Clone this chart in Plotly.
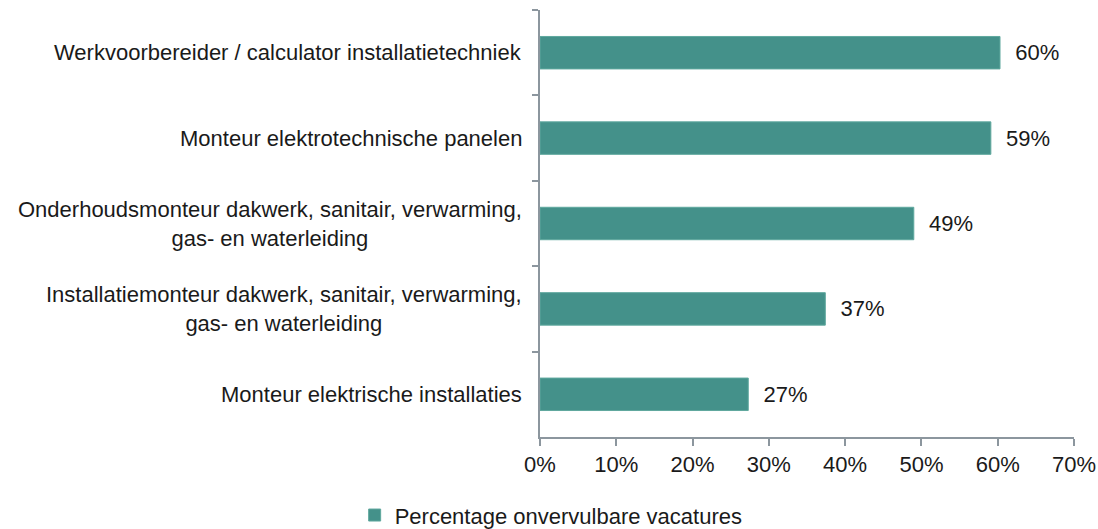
import plotly.graph_objects as go

categories = [
    "Werkvoorbereider / calculator installatietechniek",
    "Monteur elektrotechnische panelen",
    "Onderhoudsmonteur dakwerk, sanitair, verwarming,<br>gas- en waterleiding",
    "Installatiemonteur dakwerk, sanitair, verwarming,<br>gas- en waterleiding",
    "Monteur elektrische installaties",
]
values = [60.3, 59.1, 49.0, 37.4, 27.3]
series_name = "Percentage onvervulbare vacatures"
x_ticks = [0, 10, 20, 30, 40, 50, 60, 70]
x_ticklabels = [f"{t}%" for t in x_ticks]

bar_color = "#44918a"
axis_color = "#8c969e"
text_color = "#1a1a1a"
font_family = "Liberation Sans, Arial, sans-serif"
fs = 22

fig = go.Figure()
fig.add_trace(go.Bar(
    x=values,
    y=categories,
    orientation="h",
    name=series_name,
    marker=dict(color=bar_color, line=dict(color="#5fa89e", width=1)),
    text=["\u00a0\u00a0" + f"{v:.0f}%" for v in values],
    textposition="outside",
    textfont=dict(size=fs, color=text_color, family=font_family),
    cliponaxis=False,
    showlegend=True,
))

for c in categories:
    fig.add_annotation(
        x=0, xref="paper", y=c, yref="y",
        text=c, showarrow=False, xanchor="right", yanchor="middle",
        align="center", xshift=-16,
        font=dict(size=fs, color=text_color, family=font_family),
    )

fig.update_layout(
    width=1098, height=529,
    margin=dict(l=540, r=24, t=10, b=92, autoexpand=False),
    paper_bgcolor="white", plot_bgcolor="white",
    bargap=0.62,
    font=dict(family=font_family, size=fs, color=text_color),
    showlegend=True,
    legend=dict(
        orientation="h",
        xref="container", yref="container",
        x=0.323, y=0.026, xanchor="left", yanchor="middle",
        font=dict(size=fs, color=text_color, family=font_family),
        itemwidth=30,
    ),
    xaxis=dict(
        range=[0, 70],
        tickvals=x_ticks, ticktext=x_ticklabels,
        showgrid=False, zeroline=False, automargin=False,
        showline=True, linecolor=axis_color, linewidth=2,
        ticks="outside", ticklen=7, tickcolor=axis_color, tickwidth=2,
        tickfont=dict(size=fs, color=text_color),
        fixedrange=True,
    ),
    yaxis=dict(
        categoryorder="array", categoryarray=categories,
        autorange="reversed",
        showticklabels=False, automargin=False,
        showgrid=False, zeroline=False,
        showline=True, linecolor=axis_color, linewidth=2,
        ticks="outside", ticklen=6, tickcolor=axis_color, tickwidth=2,
        tickson="boundaries",
        fixedrange=True,
    ),
)

fig.write_html(
    "out.html",
    config={"displayModeBar": False},
    post_script="document.body.style.margin='0';document.body.style.overflow='hidden';",
)
